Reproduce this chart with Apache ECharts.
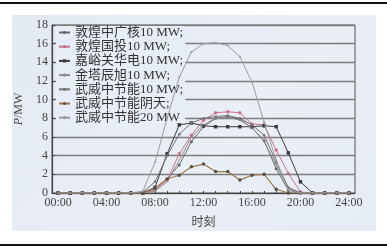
<!DOCTYPE html>
<html><head><meta charset="utf-8">
<script src="https://cdn.jsdelivr.net/npm/echarts@6/dist/echarts.min.js"></script>
<style>
html,body{margin:0;padding:0;background:#fff;}
#wrap{position:relative;width:387px;height:247px;overflow:hidden;}
#topRule{position:absolute;left:0;top:2px;width:387px;height:2px;background:#111;}
#botRule{position:absolute;left:0;top:244px;width:387px;height:2px;background:#111;}
#panel{position:absolute;left:12px;top:15px;width:364px;height:216px;background:linear-gradient(135deg,#e3e9f1,#eaeff6 60%,#e6ecf4);}
#chart{position:absolute;left:0;top:0;width:387px;height:247px;}
</style></head>
<body>
<div id="wrap"><div id="topRule"></div><div id="botRule"></div><div id="panel"></div><div id="chart"></div></div>
<script>
const hours = ["00:00","01:00","02:00","03:00","04:00","05:00","06:00","07:00","08:00","09:00","10:00","11:00","12:00","13:00","14:00","15:00","16:00","17:00","18:00","19:00","20:00","21:00","22:00","23:00","24:00"];
const seriesNames = ["敦煌中广核10 MW;","敦煌国投10 MW;","嘉峪关华电10 MW;","金塔辰旭10 MW;","武威中节能10 MW;","武威中节能阴天;","武威中节能20 MW"];
const dhZgh   = [0,0,0,0,0,0,0,0.1,0.5,1.5,3.0,5.5,7.1,8.0,8.2,7.9,7.0,5.6,2.6,0.3,0,0,0,0,0];
const dhGt    = [0,0,0,0,0,0,0,0,0.3,1.4,4.2,6.2,7.8,8.6,8.7,8.6,7.4,7.3,4.6,2.1,0.1,0,0,0,0];
const jygHd   = [0,0,0,0,0,0,0,0,0.6,4.2,7.3,7.5,7.2,7.1,7.1,7.1,7.1,7.2,7.1,4.3,1.2,0,0,0,0];
const jtCx    = [0,0,0,0,0,0,0,0,0.2,1.2,3.5,6.0,7.3,8.0,8.1,7.8,7.0,5.5,3.0,0.5,0,0,0,0,0];
const wwZjn10 = [0,0,0,0,0,0,0,0.1,1.2,4.0,6.3,7.5,8.0,8.2,8.3,8.0,7.3,6.2,3.3,0.6,0,0,0,0,0];
const wwYt    = [0,0,0,0,0,0,0,0,0.5,1.5,1.9,2.8,3.1,2.3,2.3,1.4,1.9,2.0,0.4,0,0,0,0,0,0];
const wwZjn20 = [0,0,0,0,0,0,0,0.2,3.3,8.0,12.4,15.1,16.0,16.1,15.8,14.6,11.9,7.6,3.5,0.3,0,0,0,0,0];
const yTicks = [0,2,4,6,8,10,12,14,16,18];

const allData = [dhZgh, dhGt, jygHd, jtCx, wwZjn10, wwYt, wwZjn20];
const styles = [
  {color:'#666666', symbol:'circle', size:3, lw:1},
  {color:'#c7738c', symbol:'circle', size:3.5, lw:1},
  {color:'#3c3c3c', symbol:'rect', size:3.5, lw:1},
  {color:'#8c8c8c', symbol:'none', size:0, lw:1},
  {color:'#737373', symbol:'circle', size:2.5, lw:1},
  {color:'#9c7a4c', symbol:'circle', size:3.5, lw:1.2, mcolor:'#5a5048'},
  {color:'#9a9a9a', symbol:'circle', size:2, lw:1}
];
const FONT = '"Liberation Serif","Noto Sans CJK SC",serif';
const chart = echarts.init(document.getElementById('chart'), null, {renderer:'canvas'});
chart.setOption({
  backgroundColor:'transparent',
  animation:false,
  textStyle:{fontFamily:FONT},
  grid:{left:52, right:32, top:25, bottom:54, show:true, borderColor:'#555', borderWidth:1, backgroundColor:'transparent'},
  legend:{
    orient:'vertical', left:56, top:26, itemGap:1.2, itemWidth:11, itemHeight:4,
    backgroundColor:'#e7edf4', padding:[0,2,0,2],
    textStyle:{fontFamily:FONT, fontSize:13, color:'#333', lineHeight:13},
    data: seriesNames
  },
  xAxis:{
    type:'category', data:hours, boundaryGap:true,
    name:'时刻', nameLocation:'middle', nameGap:24,
    nameTextStyle:{fontFamily:FONT, fontSize:12, color:'#444'},
    axisLine:{lineStyle:{color:'#444', width:1.2}},
    axisTick:{show:true, inside:true, interval:0, alignWithLabel:true, length:2, lineStyle:{color:'#444'}},
    axisLabel:{interval:3, fontFamily:FONT, fontSize:12, color:'#444', margin:4},
    splitLine:{show:false}
  },
  yAxis:{
    type:'value', min:0, max:18, interval:2,
    name:'{i|P}/MW', nameLocation:'middle', nameGap:22, nameRotate:90,
    nameTextStyle:{fontFamily:FONT, fontSize:12, color:'#444', rich:{i:{fontStyle:'italic', fontFamily:FONT, fontSize:12, color:'#444'}}},
    axisLine:{show:true, lineStyle:{color:'#444', width:1.2}},
    axisTick:{show:true, inside:true, length:3, lineStyle:{color:'#444'}},
    axisLabel:{fontFamily:FONT, fontSize:12, color:'#444', margin:4,
      formatter:function(v){return yTicks.indexOf(v)>=0?String(v):'';}},
    splitLine:{show:true, lineStyle:{color:'#7d7d7d', width:1.3}}
  },
  series: allData.map(function(d,i){
    const s = styles[i];
    return {
      name:seriesNames[i], type:'line', data:d,
      symbol:s.symbol, symbolSize:s.size, showSymbol:s.symbol!=='none',
      lineStyle:{color:s.color, width:s.lw},
      itemStyle:{color:s.mcolor||s.color},
      z: 3+i
    };
  })
});
</script>
</body></html>
